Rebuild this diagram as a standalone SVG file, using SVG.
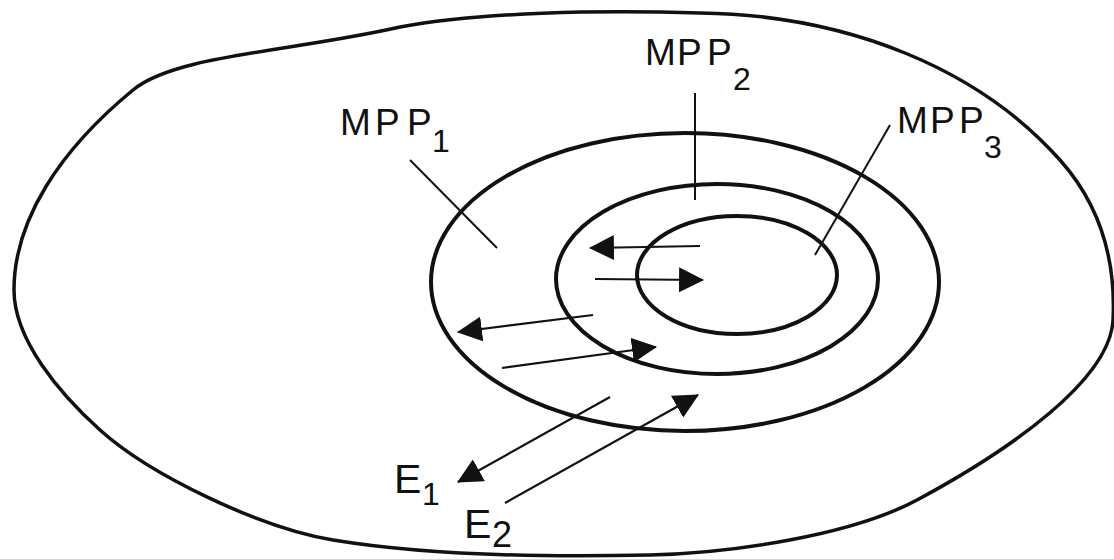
<svg xmlns="http://www.w3.org/2000/svg" width="1114" height="559" viewBox="0 0 1114 559">
<style>
.bound{fill:none;stroke:#111;stroke-width:4}
.outer{fill:none;stroke:#111;stroke-width:3.5}
.lead{fill:none;stroke:#111;stroke-width:2}
.arr{fill:none;stroke:#111;stroke-width:2.2;marker-end:url(#ah)}
.lbl{font-family:"Liberation Sans",Arial,sans-serif;fill:#111;font-size:37px}
.sub{font-family:"Liberation Sans",Arial,sans-serif;fill:#111;font-size:32px}
</style>
<defs>
<marker id="ah" viewBox="0 0 24 24" refX="23" refY="12" markerWidth="25" markerHeight="25" markerUnits="userSpaceOnUse" orient="auto">
<path d="M0,0 L24,12 L0,24 z" fill="#111"/>
</marker>
</defs>
<rect width="1114" height="559" fill="#fff"/>
<g id="outer">
<path class="outer" d="M700,13 C850,15 980,70 1060,160 C1100,205 1116,260 1113,320 C1110,380 1010,450 917,500 C850,536 730,553 650,555 C560,557 430,556 333,540 C260,528 150,475 100,430 C60,394 14,340 14,290 C14,220 60,150 133,90 C175,55 290,52 400,27 C480,12 600,10 700,13 Z"/>
</g>
<g id="mpp1">
<ellipse class="bound" cx="685" cy="282" rx="254" ry="149"/>
<line class="lead" x1="410" y1="160" x2="497" y2="248"/>
<text class="lbl" x="340 375 407" y="135">MPP</text>
<text class="sub" x="432" y="152">1</text>
</g>
<g id="mpp2">
<ellipse class="bound" cx="717" cy="279" rx="161" ry="95"/>
<line class="lead" x1="695" y1="93" x2="695" y2="200"/>
<text class="lbl" x="645 677 707" y="65">MPP</text>
<text class="sub" x="733" y="90">2</text>
</g>
<g id="mpp3">
<ellipse class="bound" cx="737" cy="275" rx="100" ry="59"/>
<line class="lead" x1="890" y1="125" x2="815" y2="255"/>
<text class="lbl" x="897 930 959" y="133">MPP</text>
<text class="sub" x="984" y="158">3</text>
</g>
<g id="e1">
<text class="lbl" x="394" y="493" style="font-size:41px">E</text>
<text class="sub" x="422" y="505">1</text>
</g>
<g id="e2">
<text class="lbl" x="464" y="538" style="font-size:41px">E</text>
<text class="sub" x="492" y="547" style="font-size:36px">2</text>
</g>
<g id="connectors">
<line class="arr" x1="700" y1="246" x2="590" y2="248"/>
<line class="arr" x1="595" y1="279" x2="703" y2="280"/>
<line class="arr" x1="593" y1="315" x2="458" y2="332"/>
<line class="arr" x1="502" y1="368" x2="656" y2="347"/>
<line class="arr" x1="610" y1="397" x2="458" y2="482"/>
<line class="arr" x1="505" y1="503" x2="698" y2="395"/>
</g>
</svg>
